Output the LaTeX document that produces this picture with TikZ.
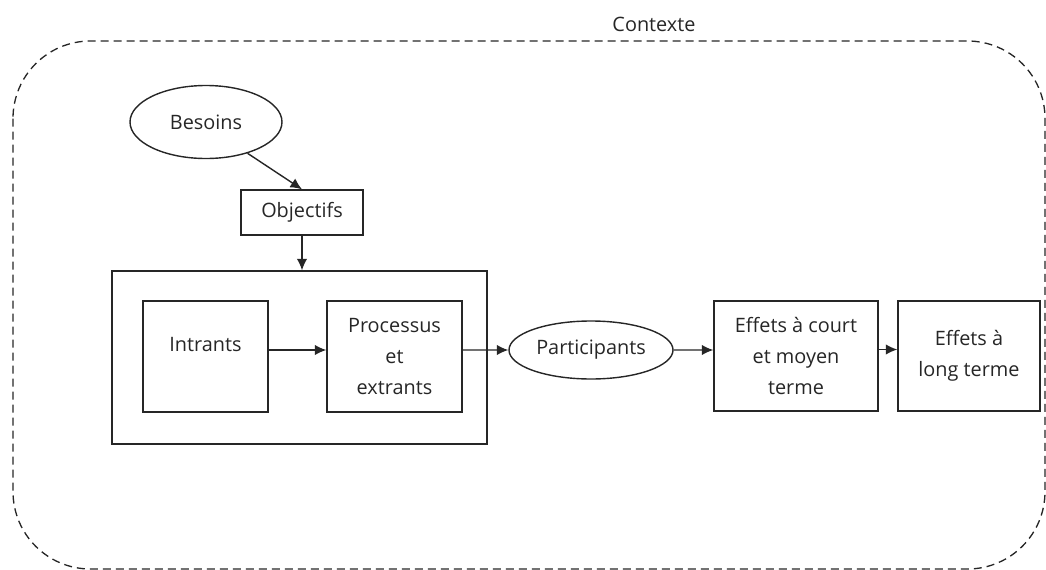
\documentclass[tikz,border=0pt]{standalone}
\usepackage{fontspec}
\setmainfont{Open Sans}
\usepackage{tikz}
\usetikzlibrary{calc, arrows.meta, shapes.geometric}
\tikzstyle{bloc}=[draw, thick, align=center, inner sep=2pt]
\tikzstyle{bulle}=[draw, thick, ellipse, inner sep=0pt]
\tikzstyle{contour}=[draw=black!85, line width=0.75pt, dash pattern=on 0.16cm off 0.1cm, rounded corners=1.55cm]

\begin{document}
\begin{tikzpicture}[>={Latex[length=2.3mm,width=2.1mm]}, font=\fontsize{11.3}{17.5}\selectfont, color=black!85]
      \useasboundingbox (0,0) rectangle (20.92,-11.4);
      % le contexte
      \path[contour] (0.26,-0.82) rectangle (20.9,-11.38);
      \node [anchor=base] (contexte) at (13.08,-0.62) {Contexte};

      \node [bulle, minimum width=3.04cm, minimum height=1.46cm] (besoins) at (4.12,-2.44) {Besoins};
      \node [bloc, minimum width=2.44cm, minimum height=0.9cm] (objectifs) at (6.04,-4.25) {Objectifs};
      \node [bloc, minimum width=7.5cm, minimum height=3.46cm] (cadre) at (5.99,-7.15) {};
      \node [bloc, minimum width=2.5cm, minimum height=2.22cm, text depth=0.5cm] (intrants) at (4.11,-7.13) {Intrants};
      \node [bloc, minimum width=2.7cm, minimum height=2.22cm] (processus) at (7.89,-7.13) {Processus\\et\\extrants};
      \node [bulle, minimum width=3.28cm, minimum height=1.16cm] (participants) at (11.82,-7.0) {Participants};
      \node [bloc, minimum width=3.28cm, minimum height=2.2cm] (court) at (15.92,-7.12) {Effets à court\\et moyen\\terme};
      \node [bloc, minimum width=2.84cm, minimum height=2.2cm] (long) at (19.38,-7.12) {Effets à\\long terme};

      \path[->, thick] (besoins.-37) edge node {} (objectifs.north);
      \path[->, thick] (objectifs.south) edge node {} (objectifs.south |- cadre.north);
      \path[->, thick] ([yshift=1.3mm]intrants.east) edge node {} ([yshift=1.3mm]processus.west);
      \path[->, thick] ([yshift=1.3mm]processus.east) edge node {} (participants.west);
      \path[->, thick] (participants.east) edge node {} ([yshift=1.2mm]court.west);
      \path[->, thick] ([yshift=1.3mm]court.east) edge node {} ([yshift=1.3mm]long.west);
  \end{tikzpicture}
\end{document}
